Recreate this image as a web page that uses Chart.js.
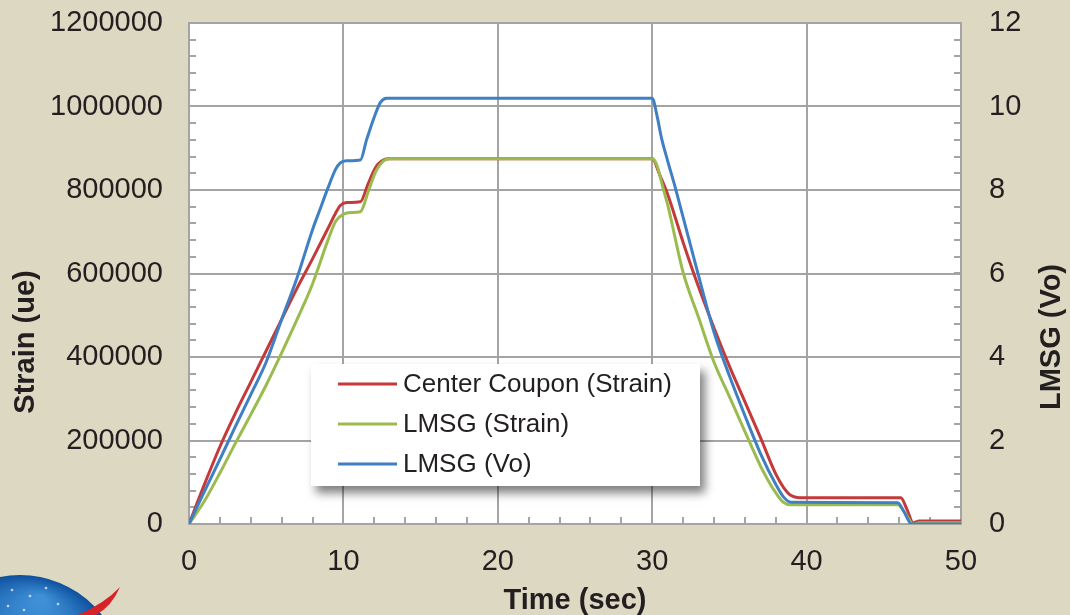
<!DOCTYPE html>
<html>
<head>
<meta charset="utf-8">
<script src="https://cdn.jsdelivr.net/npm/chart.js@4.4.1/dist/chart.umd.min.js"></script>
<style>
  html, body { margin: 0; padding: 0; background: #dcd8c2; }
  #wrap { width: 1070px; height: 615px; }
</style>
</head>
<body>
<div id="wrap"><canvas id="myChart" width="1070" height="615"></canvas></div>
<script>
// time in seconds, strain in ue, LMSG output in volts
let redTime = [0, 1, 2, 3, 4, 5, 6, 7, 8, 9, 9.5, 9.8, 10.2, 11.1, 11.6, 12.1, 12.5, 12.9, 30, 30.5, 31, 32, 33, 34, 35, 36, 37, 38, 38.5, 39, 39.5, 46.1, 46.5, 46.9, 47.3, 50];
let redStrain = [0, 95000, 185000, 265000, 340000, 415000, 490000, 565000, 635000, 708000, 745000, 763000, 770000, 772000, 815000, 855000, 870000, 875000, 875000, 835000, 790000, 675000, 568000, 470000, 378000, 293000, 208000, 120000, 88000, 68000, 63000, 63000, 35000, 3000, 7000, 7000];

let greenTime = [0, 1, 2, 3, 4, 5, 6, 7, 8, 9, 9.5, 10, 10.5, 11.1, 11.6, 12.1, 12.6, 13, 30, 30.3, 30.7, 31, 32, 33, 34, 35, 36, 37, 37.5, 38, 38.5, 39, 45.9, 46.4, 46.9, 47.3, 50];
let greenStrain = [0, 55000, 122000, 193000, 262000, 333000, 410000, 490000, 575000, 680000, 725000, 742000, 746000, 748000, 795000, 845000, 870000, 875000, 875000, 860000, 805000, 765000, 603000, 495000, 388000, 305000, 222000, 140000, 105000, 75000, 52000, 46000, 46000, 25000, 0, 3000, 3000];

let blueTime = [0, 1, 2, 3, 4, 5, 6, 7, 8, 8.5, 9, 9.5, 9.8, 10.2, 11.1, 11.5, 12, 12.4, 12.8, 30, 30.3, 30.6, 31, 31.5, 32, 33, 34, 35, 36, 37, 38, 38.5, 39, 45.9, 46.3, 46.8, 50];
let blueVolt = [0, 0.78, 1.55, 2.33, 3.1, 3.88, 4.9, 5.9, 7.05, 7.55, 8.05, 8.5, 8.65, 8.7, 8.72, 9.2, 9.75, 10.1, 10.2, 10.2, 9.8, 9.25, 8.7, 8.05, 7.35, 5.95, 4.6, 3.55, 2.6, 1.7, 0.95, 0.65, 0.52, 0.51, 0.3, 0, 0];

let seriesNames = ['Center Coupon (Strain)', 'LMSG (Strain)', 'LMSG (Vo)'];
let seriesColors = ['#c4393a', '#9bbb4f', '#3f7fc3'];

function pairs(xs, ys) {
    return xs.map((x, i) => ({ x: x, y: ys[i] }))
}

const textColor = '#231f20';
const gridColor = '#a4a4a4';
const font = 'Liberation Sans, Arial, sans-serif';

// white plot area
const plotBg = {
    id: 'plotBg',
    beforeDraw(chart) {
        const { ctx, chartArea: a } = chart;
        ctx.save();
        ctx.fillStyle = '#ffffff';
        ctx.fillRect(a.left, a.top, a.right - a.left, a.bottom - a.top);
        ctx.restore();
    }
};

// small inward tick marks like the excel chart
const minorTicks = {
    id: 'minorTicks',
    beforeDatasetsDraw(chart) {
        const { ctx, chartArea: a, scales } = chart;
        ctx.save();
        ctx.strokeStyle = gridColor;
        ctx.lineWidth = 2;
        ctx.beginPath();
        for (let v = 0; v <= 1200000; v += 40000) {
            const y = Math.round(scales.y.getPixelForValue(v));
            ctx.moveTo(a.left, y);
            ctx.lineTo(a.left + 7, y);
        }
        for (let v = 0; v <= 12.001; v += 0.4) {
            const y = Math.round(scales.y1.getPixelForValue(v));
            ctx.moveTo(a.right - 7, y);
            ctx.lineTo(a.right, y);
        }
        for (let t = 0; t <= 50; t += 2) {
            const x = Math.round(scales.x.getPixelForValue(t));
            ctx.moveTo(x, a.bottom);
            ctx.lineTo(x, a.bottom - 7);
        }
        ctx.stroke();
        ctx.restore();
    }
};

// axis titles, legend box and the logo corner
const extras = {
    id: 'extras',
    afterDraw(chart) {
        const { ctx, chartArea: a } = chart;
        ctx.save();
        ctx.fillStyle = textColor;
        ctx.font = 'bold 29px ' + font;
        ctx.textAlign = 'center';
        ctx.textBaseline = 'middle';
        ctx.fillText('Time (sec)', (a.left + a.right) / 2, 601);

        ctx.save();
        ctx.translate(26, 342);
        ctx.rotate(-Math.PI / 2);
        ctx.fillText('Strain (ue)', 0, 0);
        ctx.restore();

        ctx.save();
        ctx.translate(1052, 337);
        ctx.rotate(-Math.PI / 2);
        ctx.fillText('LMSG (Vo)', 0, 0);
        ctx.restore();

        // legend
        ctx.save();
        ctx.shadowColor = 'rgba(0,0,0,0.5)';
        ctx.shadowBlur = 9;
        ctx.shadowOffsetX = 5;
        ctx.shadowOffsetY = 7;
        ctx.fillStyle = '#ffffff';
        ctx.fillRect(311, 364, 389, 122);
        ctx.restore();

        ctx.font = '26px ' + font;
        ctx.textAlign = 'left';
        chart.data.datasets.forEach((ds, i) => {
            const y = 384 + i * 40;
            ctx.strokeStyle = ds.borderColor;
            ctx.lineWidth = 3;
            ctx.beginPath();
            ctx.moveTo(338, y);
            ctx.lineTo(397, y);
            ctx.stroke();
            ctx.fillStyle = textColor;
            ctx.fillText(ds.label, 403, y + 1);
        });

        // bit of the logo peeking in at the bottom left
        const g = ctx.createRadialGradient(40, 600, 5, 20, 679, 104);
        g.addColorStop(0, '#3d8fd6');
        g.addColorStop(1, '#0d4f9e');
        ctx.fillStyle = g;
        ctx.beginPath();
        ctx.arc(20, 679, 104, 0, Math.PI * 2);
        ctx.fill();
        ctx.fillStyle = 'rgba(255,255,255,0.7)';
        [[12, 590], [30, 596], [46, 588], [8, 606], [58, 604], [24, 610]].forEach(p => {
            ctx.beginPath();
            ctx.arc(p[0], p[1], 1.3, 0, Math.PI * 2);
            ctx.fill();
        });
        ctx.fillStyle = '#d8222a';
        ctx.beginPath();
        ctx.moveTo(78, 615);
        ctx.quadraticCurveTo(105, 603, 120, 587);
        ctx.quadraticCurveTo(112, 606, 96, 615);
        ctx.closePath();
        ctx.fill();
        ctx.restore();
    }
};

const ctx = document.getElementById('myChart');

new Chart(ctx, {
    type: 'line',
    data: {
        datasets: [
            {
                label: seriesNames[0],
                data: pairs(redTime, redStrain),
                borderColor: seriesColors[0],
                yAxisID: 'y',
                order: 3
            },
            {
                label: seriesNames[1],
                data: pairs(greenTime, greenStrain),
                borderColor: seriesColors[1],
                yAxisID: 'y',
                order: 2
            },
            {
                label: seriesNames[2],
                data: pairs(blueTime, blueVolt),
                borderColor: seriesColors[2],
                yAxisID: 'y1',
                order: 1
            }
        ]
    },
    options: {
        responsive: false,
        animation: false,
        events: [],
        layout: { padding: { top: 23, left: 0, right: 0, bottom: 0 } },
        elements: {
            point: { radius: 0 },
            line: { borderWidth: 3, cubicInterpolationMode: 'monotone' }
        },
        scales: {
            x: {
                type: 'linear',
                min: 0,
                max: 50,
                ticks: {
                    stepSize: 10,
                    color: textColor,
                    font: { family: font, size: 29 },
                    padding: 21,
                    maxRotation: 0,
                    callback: v => String(v)
                },
                grid: { color: gridColor, lineWidth: 2, drawTicks: false },
                border: { color: gridColor, width: 2 },
                afterFit: s => { s.height = 91; s.paddingLeft = 0; s.paddingRight = 0; }
            },
            y: {
                position: 'left',
                min: 0,
                max: 1200000,
                ticks: {
                    stepSize: 200000,
                    color: textColor,
                    font: { family: font, size: 29 },
                    padding: 26,
                    callback: v => String(v)
                },
                grid: { color: gridColor, lineWidth: 2, drawTicks: false },
                border: { color: gridColor, width: 2 },
                afterFit: s => { s.width = 189; s.paddingTop = 0; s.paddingBottom = 0; }
            },
            y1: {
                position: 'right',
                min: 0,
                max: 12,
                ticks: {
                    stepSize: 2,
                    color: textColor,
                    font: { family: font, size: 29 },
                    padding: 28,
                    callback: v => String(v)
                },
                grid: { drawOnChartArea: false, drawTicks: false },
                border: { color: gridColor, width: 2 },
                afterFit: s => { s.width = 109; s.paddingTop = 0; s.paddingBottom = 0; }
            }
        },
        plugins: {
            legend: { display: false },
            tooltip: { enabled: false }
        }
    },
    plugins: [plotBg, minorTicks, extras]
});
</script>
</body>
</html>
